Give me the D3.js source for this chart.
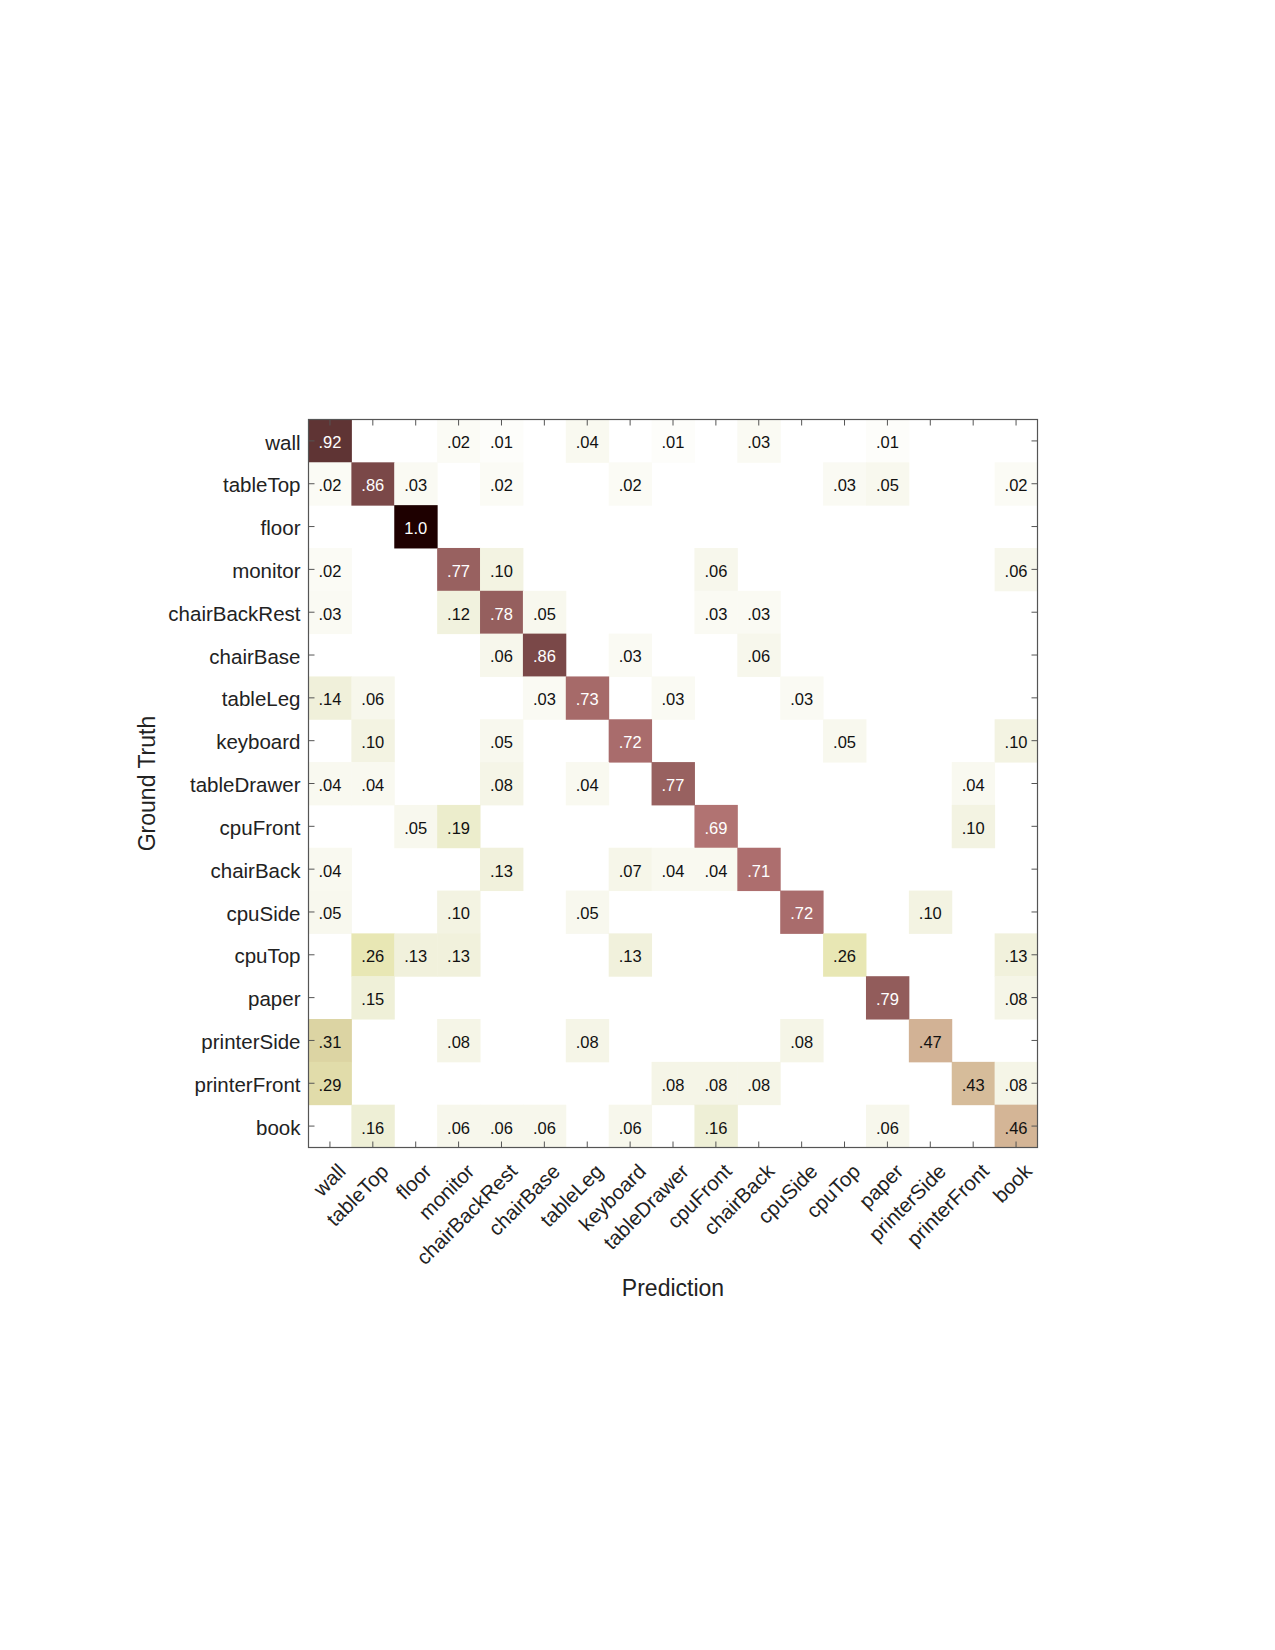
<!DOCTYPE html>
<html>
<head>
<meta charset="utf-8">
<script src="https://cdn.jsdelivr.net/npm/d3@7"></script>
<style>
  html, body { margin: 0; padding: 0; background: #fff; }
  svg { display: block; }
  text { font-family: "Liberation Sans", Arial, Helvetica, sans-serif; }
</style>
</head>
<body>
<svg id="chart" width="1275" height="1650"></svg>
<script>
// ---- data ----
const categories = ["wall", "tableTop", "floor", "monitor", "chairBackRest", "chairBase",
  "tableLeg", "keyboard", "tableDrawer", "cpuFront", "chairBack", "cpuSide", "cpuTop",
  "paper", "printerSide", "printerFront", "book"];

// rows: ground truth, columns: prediction (0 = empty cell)
const rowWall          = [.92, 0, 0, .02, .01, 0, .04, 0, .01, 0, .03, 0, 0, .01, 0, 0, 0];
const rowTableTop      = [.02, .86, .03, 0, .02, 0, 0, .02, 0, 0, 0, 0, .03, .05, 0, 0, .02];
const rowFloor         = [0, 0, 1.0, 0, 0, 0, 0, 0, 0, 0, 0, 0, 0, 0, 0, 0, 0];
const rowMonitor       = [.02, 0, 0, .77, .10, 0, 0, 0, 0, .06, 0, 0, 0, 0, 0, 0, .06];
const rowChairBackRest = [.03, 0, 0, .12, .78, .05, 0, 0, 0, .03, .03, 0, 0, 0, 0, 0, 0];
const rowChairBase     = [0, 0, 0, 0, .06, .86, 0, .03, 0, 0, .06, 0, 0, 0, 0, 0, 0];
const rowTableLeg      = [.14, .06, 0, 0, 0, .03, .73, 0, .03, 0, 0, .03, 0, 0, 0, 0, 0];
const rowKeyboard      = [0, .10, 0, 0, .05, 0, 0, .72, 0, 0, 0, 0, .05, 0, 0, 0, .10];
const rowTableDrawer   = [.04, .04, 0, 0, .08, 0, .04, 0, .77, 0, 0, 0, 0, 0, 0, .04, 0];
const rowCpuFront      = [0, 0, .05, .19, 0, 0, 0, 0, 0, .69, 0, 0, 0, 0, 0, .10, 0];
const rowChairBack     = [.04, 0, 0, 0, .13, 0, 0, .07, .04, .04, .71, 0, 0, 0, 0, 0, 0];
const rowCpuSide       = [.05, 0, 0, .10, 0, 0, .05, 0, 0, 0, 0, .72, 0, 0, .10, 0, 0];
const rowCpuTop        = [0, .26, .13, .13, 0, 0, 0, .13, 0, 0, 0, 0, .26, 0, 0, 0, .13];
const rowPaper         = [0, .15, 0, 0, 0, 0, 0, 0, 0, 0, 0, 0, 0, .79, 0, 0, .08];
const rowPrinterSide   = [.31, 0, 0, .08, 0, 0, .08, 0, 0, 0, 0, .08, 0, 0, .47, 0, 0];
const rowPrinterFront  = [.29, 0, 0, 0, 0, 0, 0, 0, .08, .08, .08, 0, 0, 0, 0, .43, .08];
const rowBook          = [0, .16, 0, .06, .06, .06, 0, .06, 0, .16, 0, 0, 0, .06, 0, 0, .46];

const matrix = [rowWall, rowTableTop, rowFloor, rowMonitor, rowChairBackRest, rowChairBase,
  rowTableLeg, rowKeyboard, rowTableDrawer, rowCpuFront, rowChairBack, rowCpuSide, rowCpuTop,
  rowPaper, rowPrinterSide, rowPrinterFront, rowBook];

const colorStops = [0, 0.02, 0.05, 0.10, 0.16, 0.26, 0.31, 0.45, 0.70, 0.78, 0.86, 0.92, 1.0];
const colorValues = ["#ffffff", "#fbfbf5", "#f8f8ee", "#f3f3e2", "#eeefd6", "#e8e7b4", "#dcd4a3",
  "#d5b898", "#b07070", "#955f5e", "#7a4848", "#5f3434", "#1e0000"];

// ---- layout ----
const svg = d3.select("#chart");
const plotLeft = 308.5, plotRight = 1037.5, plotTop = 419.5, plotBottom = 1147.5;

const x = d3.scaleBand().domain(categories).range([plotLeft, plotRight]);
const y = d3.scaleBand().domain(categories).range([plotTop, plotBottom]);
const color = d3.scaleLinear().domain(colorStops).range(colorValues).clamp(true);

const cells = [];
matrix.forEach((row, i) => row.forEach((v, j) => {
  if (v > 0) cells.push({ r: categories[i], c: categories[j], v });
}));

const fmt = v => v >= 1 ? "1.0" : d3.format(".2f")(v).replace(/^0/, "");

svg.append("g").selectAll("rect").data(cells).join("rect")
  .attr("x", d => x(d.c))
  .attr("y", d => y(d.r))
  .attr("width", x.bandwidth() + 0.5)
  .attr("height", y.bandwidth() + 0.5)
  .attr("fill", d => color(d.v));

svg.append("g").selectAll("text").data(cells).join("text")
  .attr("x", d => x(d.c) + x.bandwidth() / 2)
  .attr("y", d => y(d.r) + y.bandwidth() / 2)
  .attr("dy", "0.45em")
  .attr("text-anchor", "middle")
  .attr("font-size", 16.5)
  .attr("fill", d => d.v >= 0.6 ? "#ffffff" : "#111111")
  .text(d => fmt(d.v));

// ---- axes (ticks inside on all four sides) ----
const axisColor = "#555";
const tick = 6;
function styleAxis(g) {
  g.select(".domain").remove();
  g.selectAll(".tick line").attr("stroke", axisColor).attr("stroke-width", 1);
}
svg.append("g").attr("transform", `translate(0,${plotBottom})`)
  .call(d3.axisBottom(x).tickSize(-tick).tickFormat("")).call(styleAxis);
svg.append("g").attr("transform", `translate(0,${plotTop})`)
  .call(d3.axisTop(x).tickSize(-tick).tickFormat("")).call(styleAxis);
svg.append("g").attr("transform", `translate(${plotRight},0)`)
  .call(d3.axisRight(y).tickSize(-tick).tickFormat("")).call(styleAxis);
const yAxis = svg.append("g").attr("transform", `translate(${plotLeft},0)`)
  .call(d3.axisLeft(y).tickSize(-tick)).call(styleAxis);
yAxis.selectAll(".tick text")
  .attr("x", -8)
  .attr("dy", "0.42em")
  .attr("font-size", 20.5)
  .attr("font-family", "Liberation Sans, Arial, sans-serif")
  .attr("fill", "#222");

// frame
svg.append("rect")
  .attr("x", plotLeft).attr("y", plotTop)
  .attr("width", plotRight - plotLeft).attr("height", plotBottom - plotTop)
  .attr("fill", "none").attr("stroke", axisColor).attr("stroke-width", 1.2);

// rotated x labels
svg.append("g").selectAll("text").data(categories).join("text")
  .attr("transform", d => `translate(${x(d) + x.bandwidth() / 2 + 12},${plotBottom + 20}) rotate(-45)`)
  .attr("text-anchor", "end")
  .attr("dy", "0.35em")
  .attr("font-size", 20.5)
  .attr("fill", "#222")
  .text(d => d);

// axis titles
svg.append("text")
  .attr("x", (plotLeft + plotRight) / 2).attr("y", 1296)
  .attr("text-anchor", "middle")
  .attr("font-size", 23)
  .attr("fill", "#222")
  .text("Prediction");

svg.append("text")
  .attr("transform", `translate(155,${(plotTop + plotBottom) / 2}) rotate(-90)`)
  .attr("text-anchor", "middle")
  .attr("font-size", 23)
  .attr("fill", "#222")
  .text("Ground Truth");
</script>
</body>
</html>
